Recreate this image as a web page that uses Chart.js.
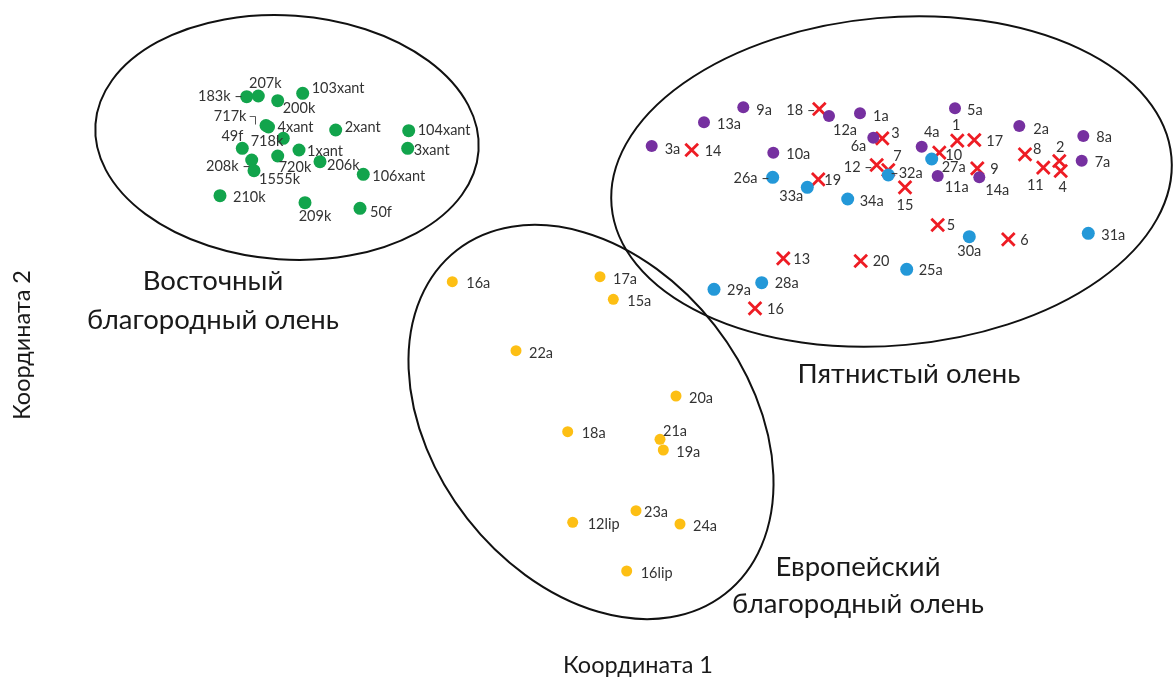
<!DOCTYPE html>
<html>
<head>
<meta charset="utf-8">
<script src="https://cdn.jsdelivr.net/npm/chart.js@4.4.1/dist/chart.umd.min.js"></script>
<style>
html,body{margin:0;padding:0;background:#fff;}
#wrap{width:1176px;height:684px;position:relative;}
</style>
</head>
<body>
<div id="wrap"><canvas id="c" width="1176" height="684"></canvas></div>
<script>
const greenNames = ["183k","207k","200k","103xant","717k","4xant","718k","49f","1xant","720k","206k","208k","1555k","2xant","104xant","3xant","106xant","210k","209k","50f"];
const greenX = [246.7,258.3,277.7,302.7,266,268.5,283.3,242.3,299,277.7,320,251.7,254,335.7,408.7,407.7,363.3,220,305,360];
const greenY = [96.7,96,100.7,93.3,125.5,127,138.3,148.3,150,156,161.7,160,170.7,130,130.7,148.3,174.3,195.7,202.7,208.3];

const purpleNames = ["9a","12a","1a","13a","3a","6a","10a","4a","11a","14a","5a","2a","8a","7a"];
const purpleX = [743.3,829,860,704,651.7,873.3,773.3,921.7,937.7,979.3,955,1019.3,1083.3,1081.7];
const purpleY = [107.3,116,113.3,122.3,146,137.7,152.7,146.7,176,177.3,108.3,126,136,160.7];

const blueNames = ["32a","26a","33a","34a","27a","30a","31a","25a","29a","28a"];
const blueX = [888.3,772.7,807.3,847.7,931.7,969.3,1088.3,906.7,714,761.7];
const blueY = [175,177.3,187.3,199,159,236.7,233.3,269.3,289.3,282.7];

const redNames = ["18","14","3","12","7","19","15","1","17","10","9","8","11","2","4","5","6","13","20","16"];
const redX = [819.3,691.7,882.3,876.7,888.3,818.3,905,957.3,974.3,939.3,977.3,1025,1043.3,1059.3,1060.7,937.7,1008.3,783.3,860.7,755];
const redY = [109,150,138.3,165,170,179.3,187.3,140.7,140,152.7,168.3,154.3,167.7,161,171,225,239.3,258.3,261,308.3];

const yellowNames = ["16a","17a","15a","22a","20a","18a","21a","19a","12lip","23a","24a","16lip"];
const yellowX = [452.3,600,613.3,516,676,567.7,660,663.3,572.7,636,680,626.7];
const yellowY = [281.7,276.7,299.3,350.7,396,431.7,439.3,450,522.3,510.7,524,571];

// group ellipses: centre x, centre y, semi-axis a, semi-axis b, rotation (deg)
const groupNames = ["Восточный\nблагородный олень","Пятнистый олень","Европейский\nблагородный олень"];
const ellipseCX = [287, 891.5, 591];
const ellipseCY = [137.5, 181.5, 422];
const ellipseA  = [192, 281, 218];
const ellipseB  = [122, 164, 157];
const ellipseRot= [4, -5, 52];

const axisTitles = ["Координата 1","Координата 2"];

// ---------- LAYOUT of the point labels (offset in px from the point, alignment) ----------
const labelLayout = {
 "g:183k":["183k –",-4,0,"r"],"g:207k":["207k",7,-13,"c"],"g:200k":["200k",5,8,"l"],"g:103xant":["103xant",9,-5,"l"],
 "g:717k":["717k ┐",-5,-9,"r"],"g:4xant":["4xant",9,0,"l"],"g:718k":["718k",0,3,"r"],"g:49f":["49f",1,-12,"r"],
 "g:1xant":["1xant",8,1,"l"],"g:720k":["720k",1,11,"l"],"g:206k":["206k",7,4,"l"],"g:208k":["208k –",-1,6,"r"],
 "g:1555k":["1555k",5,9,"l"],"g:2xant":["2xant",9,-3,"l"],"g:104xant":["104xant",9,0,"l"],"g:3xant":["3xant",6,2,"l"],
 "g:106xant":["106xant",9,2,"l"],"g:210k":["210k",13,2,"l"],"g:209k":["209k",10,14,"c"],"g:50f":["50f",10,4,"l"],
 "p:9a":["9a",13,3,"l"],"p:12a":["12a",16,14,"c"],"p:1a":["1a",13,3,"l"],"p:13a":["13a",13,2,"l"],"p:3a":["3a",13,3,"l"],
 "p:6a":["6a",-7,9,"r"],"p:10a":["10a",13,2,"l"],"p:4a":["4a",10,-14,"c"],"p:11a":["11a",7,11,"l"],"p:14a":["14a",6,13,"l"],
 "p:5a":["5a",12,2,"l"],"p:2a":["2a",14,3,"l"],"p:8a":["8a",13,1,"l"],"p:7a":["7a",13,2,"l"],
 "b:32a":["–32a",2,-2,"l"],"b:26a":["26a –",-3,1,"r"],"b:33a":["33a",-4,9,"r"],"b:34a":["34a",12,2,"l"],"b:27a":["27a",10,8,"l"],
 "b:30a":["30a",0,15,"c"],"b:31a":["31a",13,2,"l"],"b:25a":["25a",12,1,"l"],"b:29a":["29a",13,1,"l"],"b:28a":["28a",13,1,"l"],
 "r:18":["18 –",-4,1,"r"],"r:14":["14",13,1,"l"],"r:3":["3",9,-5,"l"],"r:12":["12 –",-4,2,"r"],"r:7":["7",5,-14,"l"],
 "r:19":["19",6,1,"l"],"r:15":["15",0,18,"c"],"r:1":["1",-1,-15,"c"],"r:17":["17",12,1,"l"],"r:10":["10",6,3,"l"],
 "r:9":["9",13,1,"l"],"r:8":["8",8,-5,"l"],"r:11":["11",-8,18,"c"],"r:2":["2",1,-14,"c"],"r:4":["4",2,16,"c"],
 "r:5":["5",9,0,"l"],"r:6":["6",12,1,"l"],"r:13":["13",10,1,"l"],"r:20":["20",12,0,"l"],"r:16":["16",12,1,"l"],
 "y:16a":["16a",14,2,"l"],"y:17a":["17a",13,3,"l"],"y:15a":["15a",14,2,"l"],"y:22a":["22a",13,3,"l"],"y:20a":["20a",13,2,"l"],
 "y:18a":["18a",14,2,"l"],"y:21a":["21a",3,-8,"l"],"y:19a":["19a",13,2,"l"],"y:12lip":["12lip",15,2,"l"],"y:23a":["23a",8,2,"l"],
 "y:24a":["24a",13,2,"l"],"y:16lip":["16lip",14,2,"l"]
};
// big group captions: [centre x, centre y of each line]
const groupCaptionPos = [[213,[281,320]],[909,[374]],[858,[567,604]]];

const FONT = "Lato, 'Open Sans', sans-serif";

function mk(names,xs,ys){return names.map((n,i)=>({x:xs[i],y:ys[i],name:n}));}

const datasets = [
 {key:"g",data:mk(greenNames,greenX,greenY),backgroundColor:"#12a44c",pointRadius:6.5,pointStyle:"circle",borderWidth:0},
 {key:"p",data:mk(purpleNames,purpleX,purpleY),backgroundColor:"#7630a0",pointRadius:6,pointStyle:"circle",borderWidth:0},
 {key:"b",data:mk(blueNames,blueX,blueY),backgroundColor:"#2398d8",pointRadius:6.5,pointStyle:"circle",borderWidth:0},
 {key:"y",data:mk(yellowNames,yellowX,yellowY),backgroundColor:"#fdbf14",pointRadius:5.5,pointStyle:"circle",borderWidth:0},
 {key:"r",data:mk(redNames,redX,redY),borderColor:"#ee1c24",backgroundColor:"#ee1c24",pointRadius:9,pointStyle:"crossRot",borderWidth:2.8}
];

const overlay = {
 id:"overlay",
 beforeDatasetsDraw(chart){
  const ctx=chart.ctx, xs=chart.scales.x, ys=chart.scales.y;
  ctx.save();
  ctx.strokeStyle="#111"; ctx.lineWidth=2;
  for(let i=0;i<ellipseCX.length;i++){
   const cx=xs.getPixelForValue(ellipseCX[i]), cy=ys.getPixelForValue(ellipseCY[i]);
   const a=Math.abs(xs.getPixelForValue(ellipseCX[i]+ellipseA[i])-cx);
   const b=Math.abs(ys.getPixelForValue(ellipseCY[i]+ellipseB[i])-cy);
   ctx.beginPath(); ctx.ellipse(cx,cy,a,b,ellipseRot[i]*Math.PI/180,0,Math.PI*2); ctx.stroke();
  }
  ctx.restore();
 },
 afterDatasetsDraw(chart){
  const ctx=chart.ctx;
  ctx.save();
  ctx.font="14.5px "+FONT; ctx.fillStyle="#333"; ctx.textBaseline="middle";
  chart.data.datasets.forEach((ds,di)=>{
   const meta=chart.getDatasetMeta(di);
   ds.data.forEach((d,i)=>{
    const L=labelLayout[ds.key+":"+d.name]; if(!L) return;
    const el=meta.data[i];
    ctx.textAlign = L[3]==="l"?"left":(L[3]==="r"?"right":"center");
    ctx.fillText(L[0], el.x+L[1], el.y+L[2]);
   });
  });
  // group captions
  ctx.font="27.5px "+FONT; ctx.fillStyle="#1a1a1a"; ctx.textAlign="center";
  groupNames.forEach((g,i)=>{
   const lines=g.split("\n"), pos=groupCaptionPos[i];
   lines.forEach((ln,j)=>ctx.fillText(ln,pos[0],pos[1][j]));
  });
  // axis titles
  ctx.font="23.5px "+FONT; ctx.fillStyle="#1a1a1a";
  ctx.fillText(axisTitles[0],638,665);
  ctx.translate(22,345); ctx.rotate(-Math.PI/2); ctx.fillText(axisTitles[1],0,0);
  ctx.restore();
 }
};

new Chart(document.getElementById("c"),{
 type:"scatter",
 data:{datasets},
 options:{
  responsive:false, animation:false, devicePixelRatio:1,
  layout:{padding:0,autoPadding:false},
  scales:{
   x:{type:"linear",min:0,max:1176,display:false},
   y:{type:"linear",min:0,max:684,reverse:true,display:false}
  },
  plugins:{legend:{display:false},tooltip:{enabled:false}}
 },
 plugins:[overlay]
});
</script>
</body>
</html>
